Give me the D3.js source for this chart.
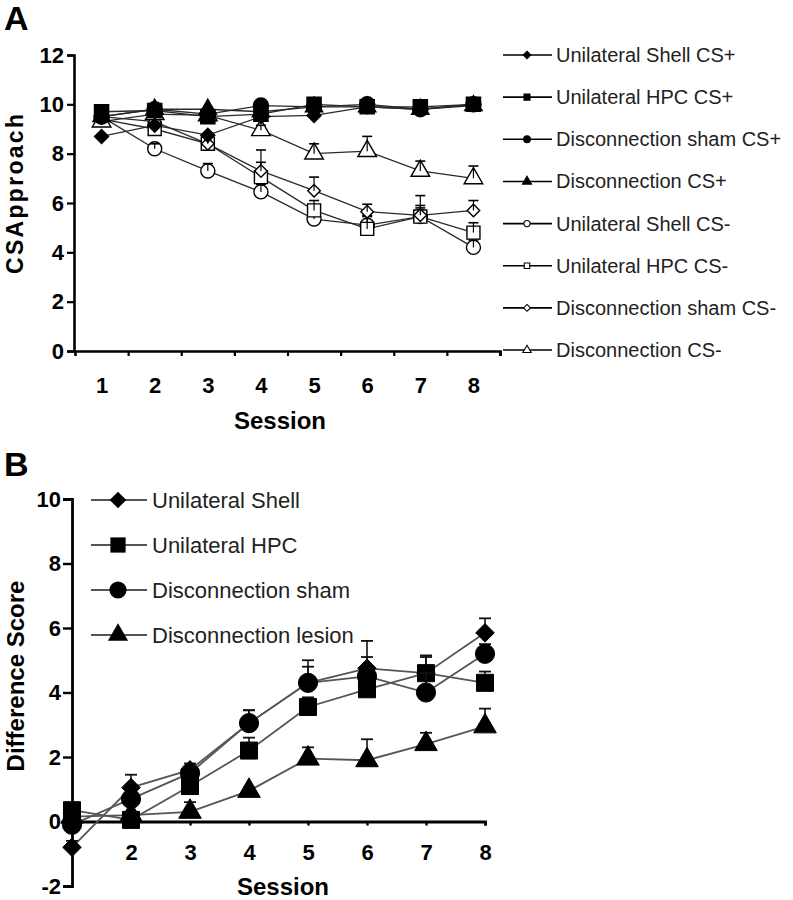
<!DOCTYPE html>
<html>
<head>
<meta charset="utf-8">
<script src="https://cdn.jsdelivr.net/npm/d3@7"></script>
<style>
  html, body { margin: 0; padding: 0; background: #fff; }
  svg { display: block; font-family: "Liberation Sans", Arial, sans-serif; }
</style>
</head>
<body>
<svg id="chart" width="793" height="900"></svg>
<script>
// ---------------- DATA ----------------
const sessions = [1, 2, 3, 4, 5, 6, 7, 8];
const yTicksA = [0, 2, 4, 6, 8, 10, 12];
const yTicksB = [-2, 0, 2, 4, 6, 8, 10];
const xTicksB = [2, 3, 4, 5, 6, 7, 8];

// Panel A : CS Approach
const namesA = ["Unilateral Shell CS+", "Unilateral HPC CS+", "Disconnection sham CS+", "Disconnection CS+",
                "Unilateral Shell CS-", "Unilateral HPC CS-", "Disconnection sham CS-", "Disconnection CS-"];
const shellCSplus   = [8.7, 9.15, 8.75, 9.5, 9.55, 9.9, 9.8, 10.0];
const hpcCSplus     = [9.7, 9.75, 9.5, 9.6, 10.0, 9.9, 9.9, 10.0];
const shamCSplus    = [9.5, 9.8, 9.6, 9.95, 9.9, 10.0, 9.8, 10.0];
const discCSplus    = [9.5, 9.8, 9.8, 9.7, 9.9, 9.9, 9.8, 9.95];
const shellCSminus  = [9.5, 8.2, 7.3, 6.45, 5.35, 5.1, 5.45, 4.2];
const hpcCSminus    = [9.4, 9.0, 8.4, 7.05, 5.7, 4.95, 5.45, 4.8];
const shamCSminus   = [9.5, 9.3, 8.4, 7.3, 6.5, 5.65, 5.5, 5.7];
const discCSminus   = [9.3, 9.6, 9.55, 8.95, 8.0, 8.1, 7.3, 7.0];
const errShellCSplus  = [0.1, 0.1, 0.15, 0.1, 0.1, 0.05, 0.1, 0.05];
const errHpcCSplus    = [0.1, 0.1, 0.1, 0.1, 0.05, 0.05, 0.1, 0.05];
const errShamCSplus   = [0.1, 0.1, 0.1, 0.1, 0.05, 0.05, 0.1, 0.05];
const errDiscCSplus   = [0.1, 0.1, 0.1, 0.1, 0.05, 0.05, 0.1, 0.05];
const errShellCSminus = [0.1, 0.2, 0.3, 0.3, 0.3, 0.4, 0.35, 0.3];
const errHpcCSminus   = [0.1, 0.2, 0.3, 0.6, 0.4, 0.5, 0.45, 0.4];
const errShamCSminus  = [0.1, 0.2, 0.3, 0.85, 0.55, 0.3, 0.8, 0.4];
const errDiscCSminus  = [0.1, 0.1, 0.1, 0.2, 0.4, 0.6, 0.4, 0.5];

// Panel B : Difference Score
const namesB = ["Unilateral Shell", "Unilateral HPC", "Disconnection sham", "Disconnection lesion"];
const diffShell = [-0.8, 1.05, 1.6, 3.05, 4.3, 4.75, 4.6, 5.85];
const diffHpc   = [0.35, 0.05, 1.1, 2.2, 3.55, 4.1, 4.6, 4.3];
const diffSham  = [-0.1, 0.7, 1.5, 3.05, 4.3, 4.5, 4.0, 5.2];
const diffLesion = [0.15, 0.2, 0.3, 0.95, 1.95, 1.9, 2.4, 2.95];
const errDiffShell  = [0.2, 0.4, 0.2, 0.4, 0.7, 0.85, 0.5, 0.45];
const errDiffHpc    = [0.2, 0.1, 0.2, 0.4, 0.3, 0.4, 0.55, 0.35];
const errDiffSham   = [0.1, 0.2, 0.2, 0.4, 0.5, 0.6, 0.6, 0.3];
const errDiffLesion = [0.1, 0.1, 0.3, 0.1, 0.35, 0.65, 0.35, 0.55];

// ---------------- BUILD ----------------
const svg = d3.select("#chart");
svg.append("rect").attr("width", 793).attr("height", 900).attr("fill", "#fff");

const symbolsA = [
  {type: d3.symbolDiamond2, size: 125, fill: "#000"},
  {type: d3.symbolSquare,   size: 200, fill: "#000"},
  {type: d3.symbolCircle,   size: 180, fill: "#000"},
  {type: d3.symbolTriangle, size: 130, fill: "#000"},
  {type: d3.symbolCircle,   size: 155, fill: "#fff"},
  {type: d3.symbolSquare,   size: 170, fill: "#fff"},
  {type: d3.symbolDiamond2, size: 100, fill: "#fff"},
  {type: d3.symbolTriangle, size: 150, fill: "#fff"}
];
const valsA = [shellCSplus, hpcCSplus, shamCSplus, discCSplus, shellCSminus, hpcCSminus, shamCSminus, discCSminus];
const errsA = [errShellCSplus, errHpcCSplus, errShamCSplus, errDiscCSplus, errShellCSminus, errHpcCSminus, errShamCSminus, errDiscCSminus];
const seriesA = namesA.map((n, i) => ({name: n, sym: symbolsA[i],
  pts: sessions.map((s, j) => ({s, v: valsA[i][j], e: errsA[i][j]}))}));

const symbolsB = [
  {type: d3.symbolDiamond2, size: 220},
  {type: d3.symbolSquare,   size: 290},
  {type: d3.symbolCircle,   size: 290},
  {type: d3.symbolTriangle, size: 220}
];
const valsB = [diffShell, diffHpc, diffSham, diffLesion];
const errsB = [errDiffShell, errDiffHpc, errDiffSham, errDiffLesion];
const seriesB = namesB.map((n, i) => ({name: n, sym: symbolsB[i],
  pts: sessions.map((s, j) => ({s, v: valsB[i][j], e: errsB[i][j]}))}));

const boldFont = "bold 22px 'Liberation Sans', Arial, sans-serif";
const fmt = d => String(d);

// ======== PANEL A ========
const xA = d3.scaleLinear().domain([0.5, 8.5]).range([75, 500]);
const yA = d3.scaleLinear().domain([0, 12]).range([351, 55]);

svg.append("text").attr("x", 4).attr("y", 30).text("A")
  .attr("font-weight", "bold").attr("font-size", 34);

const gA = svg.append("g");

const yAxA = gA.append("g").attr("transform", `translate(${xA(0.5) - 1},0)`)
  .call(d3.axisLeft(yA).tickValues(yTicksA).tickFormat(fmt).tickSize(7).tickPadding(3));
const xAxA = gA.append("g").attr("transform", `translate(0,${yA(0)})`)
  .call(d3.axisBottom(xA).tickValues(sessions.map(s => s + 0.5)).tickSize(5).tickFormat(""));
const xLabA = gA.append("g").attr("transform", `translate(0,${yA(0)})`)
  .call(d3.axisBottom(xA).tickValues(sessions).tickFormat(fmt).tickSize(0).tickPadding(26));
xLabA.select(".domain").remove();
[yAxA, xAxA].forEach(g => {
  g.select(".domain").attr("stroke", "#000").attr("stroke-width", 2.6);
  g.selectAll(".tick line").attr("stroke", "#000").attr("stroke-width", 2.2);
});
[yAxA, xLabA].forEach(g => g.selectAll("text").style("font", boldFont).attr("fill", "#000"));

gA.append("text").attr("x", 280).attr("y", 429).attr("text-anchor", "middle")
  .attr("font-weight", "bold").attr("font-size", 24).text("Session");
gA.append("text").attr("transform", `translate(23,194) rotate(-90)`)
  .attr("text-anchor", "middle").attr("font-weight", "bold").attr("font-size", 23)
  .attr("textLength", 160).attr("lengthAdjust", "spacing").text("CSApproach");

const lineA = d3.line().x(d => xA(d.s)).y(d => yA(d.v));
const plotA = gA.append("g");
const orderA = [4, 5, 6, 7, 3, 2, 0, 1];
orderA.forEach(i => {
  plotA.append("path").datum(seriesA[i].pts).attr("d", lineA)
    .attr("fill", "none").attr("stroke", "#2a2a2a").attr("stroke-width", 1.3);
});
orderA.forEach(i => {
  const sr = seriesA[i];
  const g = plotA.append("g");
  g.selectAll("path.m").data(sr.pts).join("path").attr("class", "m")
    .attr("transform", d => `translate(${xA(d.s)},${yA(d.v)})`)
    .attr("d", d3.symbol().type(sr.sym.type).size(sr.sym.size))
    .attr("fill", sr.sym.fill).attr("stroke", "#000").attr("stroke-width", 1.4);
  g.selectAll("line.eb").data(sr.pts).join("line").attr("class", "eb")
    .attr("x1", d => xA(d.s)).attr("x2", d => xA(d.s))
    .attr("y1", d => yA(d.v)).attr("y2", d => yA(d.v + d.e))
    .attr("stroke", "#000").attr("stroke-width", 1.2);
  g.selectAll("line.cap").data(sr.pts.filter(d => d.e > 0.15)).join("line").attr("class", "cap")
    .attr("x1", d => xA(d.s) - 5).attr("x2", d => xA(d.s) + 5)
    .attr("y1", d => yA(d.v + d.e)).attr("y2", d => yA(d.v + d.e))
    .attr("stroke", "#000").attr("stroke-width", 1.6);
});

// legend A
const legA = svg.append("g");
seriesA.forEach((sr, i) => {
  const y = 55 + i * 42.15;
  legA.append("line").attr("x1", 503).attr("x2", 552).attr("y1", y).attr("y2", y)
    .attr("stroke", "#000").attr("stroke-width", 1.6);
  legA.append("path").attr("transform", `translate(527,${y})`)
    .attr("d", d3.symbol().type(sr.sym.type).size(sr.sym.fill === "#000" ? 36 : 30))
    .attr("fill", sr.sym.fill).attr("stroke", "#000").attr("stroke-width", 1.1);
  legA.append("text").attr("x", 556).attr("y", y + 7).attr("font-size", 20)
    .attr("fill", "#222").text(sr.name);
});

// ======== PANEL B ========
const xB = d3.scaleLinear().domain([1, 8]).range([72, 485]);
const yB = d3.scaleLinear().domain([-2, 10]).range([886, 499]);

svg.append("text").attr("x", 4).attr("y", 476).text("B")
  .attr("font-weight", "bold").attr("font-size", 34);

const gB = svg.append("g");
const yAxB = gB.append("g").attr("transform", `translate(${xB(1)},0)`)
  .call(d3.axisLeft(yB).tickValues(yTicksB).tickFormat(fmt).tickSize(9).tickPadding(2));
const xAxB = gB.append("g").attr("transform", `translate(0,${yB(0)})`)
  .call(d3.axisBottom(xB).tickValues(xTicksB).tickFormat(fmt).tickSize(4).tickPadding(19));
[yAxB, xAxB].forEach(g => {
  g.select(".domain").attr("stroke", "#000").attr("stroke-width", 2.8);
  g.selectAll(".tick line").attr("stroke", "#000").attr("stroke-width", 2.4);
  g.selectAll("text").style("font", boldFont).attr("fill", "#000");
});

gB.append("text").attr("x", 283).attr("y", 895).attr("text-anchor", "middle")
  .attr("font-weight", "bold").attr("font-size", 24).text("Session");
gB.append("text").attr("transform", `translate(24,676) rotate(-90)`)
  .attr("text-anchor", "middle").attr("font-weight", "bold").attr("font-size", 24).text("Difference Score");

const lineB = d3.line().x(d => xB(d.s)).y(d => yB(d.v));
const plotB = gB.append("g");
seriesB.forEach(sr => {
  plotB.append("path").datum(sr.pts).attr("d", lineB)
    .attr("fill", "none").attr("stroke", "#555").attr("stroke-width", 1.8);
});
seriesB.forEach(sr => {
  const g = plotB.append("g");
  g.selectAll("line.eb").data(sr.pts).join("line").attr("class", "eb")
    .attr("x1", d => xB(d.s)).attr("x2", d => xB(d.s))
    .attr("y1", d => yB(d.v)).attr("y2", d => yB(d.v + d.e))
    .attr("stroke", "#111").attr("stroke-width", 1.6);
  g.selectAll("line.cap").data(sr.pts).join("line").attr("class", "cap")
    .attr("x1", d => xB(d.s) - 6).attr("x2", d => xB(d.s) + 6)
    .attr("y1", d => yB(d.v + d.e)).attr("y2", d => yB(d.v + d.e))
    .attr("stroke", "#111").attr("stroke-width", 1.8);
  g.selectAll("path.m").data(sr.pts).join("path").attr("class", "m")
    .attr("transform", d => `translate(${xB(d.s)},${yB(d.v)})`)
    .attr("d", d3.symbol().type(sr.sym.type).size(sr.sym.size))
    .attr("fill", "#000").attr("stroke", "#000").attr("stroke-width", 1);
});

// legend B
const legB = svg.append("g");
seriesB.forEach((sr, i) => {
  const y = 500 + i * 45;
  legB.append("line").attr("x1", 91).attr("x2", 147).attr("y1", y).attr("y2", y)
    .attr("stroke", "#555").attr("stroke-width", 2);
  legB.append("path").attr("transform", `translate(118,${y})`)
    .attr("d", d3.symbol().type(sr.sym.type).size(sr.sym.size * 0.8))
    .attr("fill", "#000");
  legB.append("text").attr("x", 152).attr("y", y + 8).attr("font-size", 22)
    .attr("fill", "#222").text(sr.name);
});
</script>
</body>
</html>
